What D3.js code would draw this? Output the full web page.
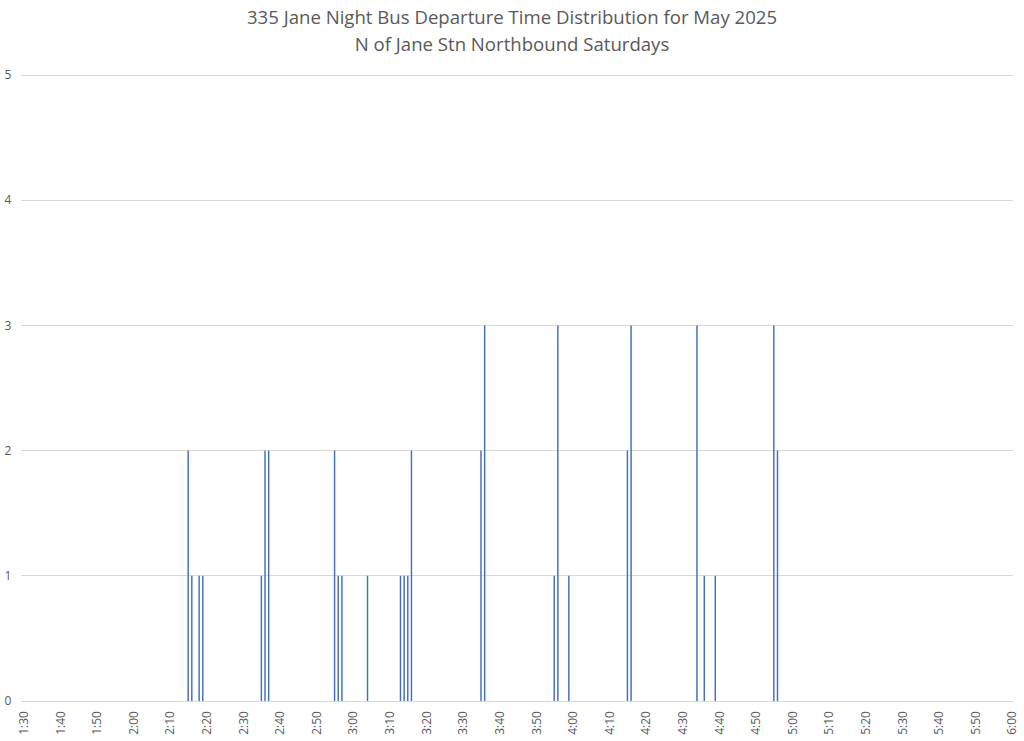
<!DOCTYPE html>
<html>
<head>
<meta charset="utf-8">
<script src="https://cdn.jsdelivr.net/npm/d3@7"></script>
<style>
  html, body { margin: 0; padding: 0; background: #fff; }
  svg { display: block; font-family: "Open Sans", "Noto Sans", sans-serif; }
</style>
</head>
<body>
<svg id="chart" width="1024" height="741"></svg>
<script>
const titleLines = ["335 Jane Night Bus Departure Time Distribution for May 2025",
                    "N of Jane Stn Northbound Saturdays"];
// minutes are categories from 1:30 to 6:00 inclusive, labelled every 10 min
const startMinute = 90;   // 1:30
const endMinute = 360;    // 6:00
const departTimes = ["2:15","2:16","2:18","2:19","2:35","2:36","2:37",
                     "2:55","2:56","2:57","3:04","3:13","3:14","3:15","3:16",
                     "3:35","3:36","3:55","3:56","3:59",
                     "4:15","4:16","4:34","4:36","4:39",
                     "4:55","4:56"];
const departCounts = [2,1,1,1,1,2,2,
                      2,1,1,1,1,1,1,2,
                      2,3,1,3,1,
                      2,3,3,1,1,
                      3,2];
const yTicks = [0,1,2,3,4,5];

function fmt(m){ const h=Math.floor(m/60), mm=m%60; return h+":"+(mm<10?"0":"")+mm; }
const categories = d3.range(startMinute, endMinute+1).map(fmt);
const countMap = new Map(departTimes.map((t,i)=>[t, departCounts[i]]));
const data = categories.map(c => ({cat:c, v: countMap.get(c) || 0}));
const tickLabels = categories.filter((c,i)=> i%10===0);

const svg = d3.select("#chart");
const x = d3.scaleBand().domain(categories).range([21, 1013]).paddingInner(0.6).paddingOuter(0.3);
const y = d3.scaleLinear().domain([0,5]).range([701, 75]);

// gridlines
svg.append("g").selectAll("line").data(yTicks).join("line")
  .attr("x1", 21).attr("x2", 1013)
  .attr("y1", d=>y(d)).attr("y2", d=>y(d))
  .attr("stroke", "#d9d9d9").attr("stroke-width", 1)
  .attr("shape-rendering","crispEdges");

// y labels
svg.append("g").selectAll("text").data(yTicks).join("text")
  .attr("x", 8).attr("y", d=>y(d)).attr("dy","0.35em")
  .attr("text-anchor","middle")
  .attr("font-size", 12).attr("fill", "#595959")
  .text(d=>d);

// bars
svg.append("g").selectAll("rect").data(data.filter(d=>d.v>0)).join("rect")
  .attr("x", d=>x(d.cat) + 0.6).attr("width", x.bandwidth())
  .attr("y", d=>y(d.v)).attr("height", d=>y(0)-y(d.v))
  .attr("fill", "#4470bc");

// x axis labels
const xAxis = d3.axisBottom(x).tickValues(tickLabels).tickSize(0).tickPadding(0);
const gx = svg.append("g").attr("transform", "translate(0,701)").call(xAxis);
gx.select(".domain").remove();
gx.selectAll("text")
  .attr("font-family", "Open Sans, Noto Sans, sans-serif")
  .attr("font-size", 12).attr("fill", "#595959")
  .attr("transform", "rotate(-90)")
  .attr("text-anchor", "end")
  .attr("x", -10).attr("y", 1).attr("dy", "0.35em");

// title
svg.append("g").selectAll("text").data(titleLines).join("text")
  .attr("x", 512).attr("y", (d,i)=> 24 + i*27)
  .attr("text-anchor","middle")
  .attr("font-size", 18.6).attr("fill", "#595959")
  .text(d=>d);
</script>
</body>
</html>
